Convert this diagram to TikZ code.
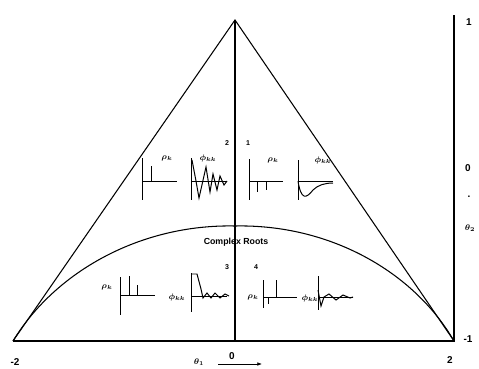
\documentclass[tikz,border=0pt]{standalone}
\usepackage{fontspec}
\setmainfont{Liberation Sans}
\usetikzlibrary{arrows.meta}

\begin{document}
\begin{tikzpicture}[x=0.03cm, y=-0.03cm,
    % Define the style for the triangle and the axes
    frame/.style={
        draw,
        line width=0.9pt
    },
    % Define the style for the small response sketches
    sketch/.style={
        draw,
        line width=0.85pt
    },
    % Define the styles for the texts
    tick/.style={font=\fontsize{8.5}{9}\selectfont\bfseries, inner sep=0pt},
    region/.style={font=\fontsize{6}{7}\selectfont\bfseries, inner sep=0pt},
    sym/.style={font=\scriptsize\boldmath, inner sep=0pt},
    line/.style={
        draw,
        -{Latex[length=4pt, width=3pt]},
        line width=0.5pt
    }
]
    \useasboundingbox (0,0) rectangle (479,369);

    % Corners of the triangle
    \coordinate (apex) at (235,20);
    \coordinate (left) at (13,341);
    \coordinate (right) at (454,341);
    \coordinate (mid) at (235,341);
    \coordinate (top) at (454,15);

    % Draw the triangle, the axes and the boundary of complex roots
    \path [frame] (left) -- (apex) -- (right);
    \path [frame] (left) -- (right) -- (top);
    \path [frame] (apex) -- (mid);
    \path [frame] (left) .. controls (55,272) and (140,224) .. (235,226)
        .. controls (330,224) and (414,272) .. (right);

    % Place the labels of the axes
    \node [tick] (t1) at (469,22) {1};
    \node [tick] (t0) at (468,168) {0};
    \node [tick] (tdot) at (469,197) {.};
    \node [sym] (th2) at (470,228) {$\theta_2$};
    \node [tick] (tm1) at (468,339) {-1};
    \node [tick] (tm2) at (15,362) {-2};
    \node [tick] (tp2) at (450,360) {2};
    \node [sym] (th1) at (199,362) {$\theta_1$};
    \node [tick] (x0) at (232,356) {0};
    \coordinate (arrs) at (218,364);
    \coordinate (arre) at (262,364);
    \path [line] (arrs) -- (arre);

    \node [font=\fontsize{7.5}{9}\selectfont\bfseries, inner sep=0pt] (cplx) at (236,242) {Complex Roots};

    % Region numbers
    \node [region] (r2) at (227,143) {2};
    \node [region] (r1) at (248,143) {1};
    \node [region] (r3) at (227,267) {3};
    \node [region] (r4) at (256,267) {4};

    % Region 2
    \node [sym] (rho2) at (167,158) {$\rho_k$};
    \path [sketch] (142,158) -- (142,200);
    \path [sketch] (142,181) -- (177,181);
    \path [sketch] (151,166) -- (151,181);
    \node [sym] (phi2) at (208,158) {$\phi_{kk}$};
    \path [sketch] (191,158) -- (191,200);
    \path [sketch] (191,181) -- (227,181);
    \path [sketch] (192,160) -- (196,181) -- (199,198) -- (206,167) -- (210,192)
        -- (213,174) -- (217,190) -- (220,176) -- (224,185) -- (227,181);

    % Region 1
    \node [sym] (rho1) at (273,160) {$\rho_k$};
    \path [sketch] (249,159) -- (249,200);
    \path [sketch] (249,181) -- (283,181);
    \path [sketch] (257,181) -- (257,192);
    \path [sketch] (266,181) -- (266,190);
    \node [sym] (phi1) at (323,160) {$\phi_{kk}$};
    \path [sketch] (298,160) -- (298,200);
    \path [sketch] (298,181) -- (333,181);
    \path [sketch] (298,181) .. controls (301,200) and (306,199) .. (313,190)
        .. controls (318,185) and (325,183) .. (333,183);

    % Region 3
    \node [sym] (rho3) at (107,287) {$\rho_k$};
    \path [sketch] (120,277) -- (120,315);
    \path [sketch] (120,295) -- (155,295);
    \path [sketch] (129,276) -- (129,295);
    \path [sketch] (137,285) -- (137,295);
    \node [sym] (phi3) at (177,297) {$\phi_{kk}$};
    \path [sketch] (191,273) -- (191,312);
    \path [sketch] (191,296) -- (227,296);
    \path [sketch] (191,274) -- (197,274) -- (201,289) -- (203,298) -- (207,293)
        -- (211,298) -- (215,293) -- (220,298) -- (225,294) -- (229,296);

    % Region 4
    \node [sym] (rho4) at (253,297) {$\rho_k$};
    \path [sketch] (263,280) -- (263,308);
    \path [sketch] (263,297) -- (297,297);
    \path [sketch] (276,280) -- (276,297);
    \path [sketch] (268,297) -- (268,304);
    \node [sym] (phi4) at (310,298) {$\phi_{kk}$};
    \path [sketch] (318,276) -- (318,310);
    \path [sketch] (318,297) -- (353,297);
    \path [sketch] (318,290) -- (321,306) -- (324,297) -- (329,294) -- (336,300)
        -- (343,295) -- (350,298) -- (353,297);

\end{tikzpicture}
\end{document}
